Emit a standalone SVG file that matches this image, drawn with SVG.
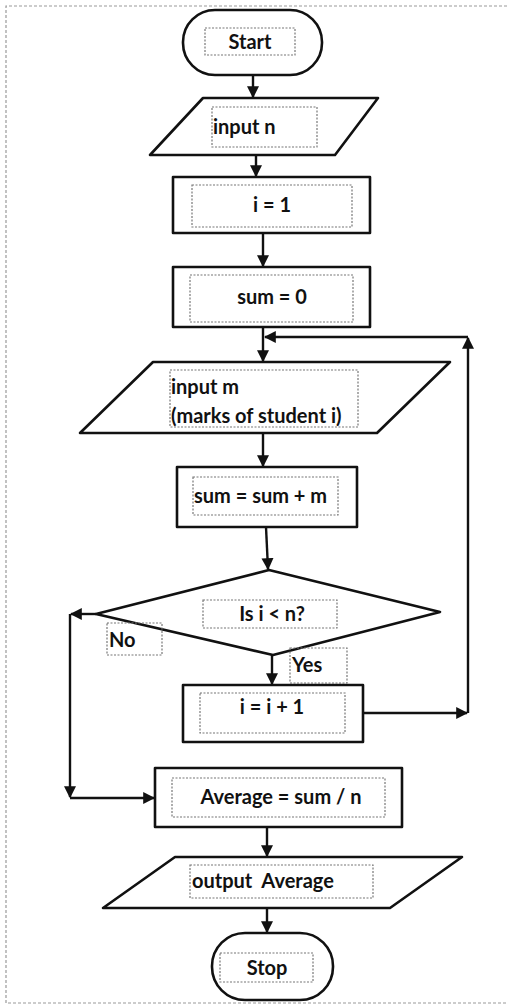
<svg xmlns="http://www.w3.org/2000/svg" width="507" height="1005" viewBox="0 0 507 1005">
<defs>
<marker id="ah" viewBox="0 0 10 10" refX="9" refY="5" markerWidth="12" markerHeight="13" markerUnits="userSpaceOnUse" orient="auto">
<path d="M0,0 L10,5 L0,10 z" fill="#111"/>
</marker>
</defs>
<style>
.shape{fill:#fff;stroke:#111;stroke-width:2.6;stroke-linejoin:round}
.tb{fill:none;stroke:#777;stroke-width:1.2;stroke-dasharray:2 1.5}
.frame{fill:none;stroke:#999;stroke-width:1.2;stroke-dasharray:3 2}
.conn{fill:none;stroke:#111;stroke-width:2.4}
text{font-family:Lato,"Open Sans","Liberation Sans",sans-serif;font-weight:bold;font-size:20px;fill:#111;white-space:pre}
.c{text-anchor:middle}
</style>
<rect width="507" height="1005" fill="#fff"/>
<g id="frame">
<path class="frame" d="M507,6 L6,6 L6,1003 L507,1003"/>
</g>
<g id="connectors">
<path class="conn" d="M253,75 L253,97" marker-end="url(#ah)"/>
<path class="conn" d="M256,155 L256,176" marker-end="url(#ah)"/>
<path class="conn" d="M263,233 L263,266" marker-end="url(#ah)"/>
<path class="conn" d="M263,327 L263,361" marker-end="url(#ah)"/>
<path class="conn" d="M263,432 L263,466" marker-end="url(#ah)"/>
<path class="conn" d="M266,527 L268,569" marker-end="url(#ah)"/>
<path class="conn" d="M272,655 L272,684" marker-end="url(#ah)"/>
<path class="conn" d="M363,713 L467,713" marker-end="url(#ah)"/>
<path class="conn" d="M468,713 L468,338" marker-end="url(#ah)"/>
<path class="conn" d="M468,337 L265,337" marker-end="url(#ah)"/>
<path class="conn" d="M96,614 L71,614" marker-end="url(#ah)"/>
<path class="conn" d="M70,614 L70,797" marker-end="url(#ah)"/>
<path class="conn" d="M70,798 L154,798" marker-end="url(#ah)"/>
<path class="conn" d="M267,827 L267,856" marker-end="url(#ah)"/>
<path class="conn" d="M267,908 L267,932" marker-end="url(#ah)"/>
</g>
<g id="start">
<rect class="shape" x="183" y="10" width="139" height="65" rx="32"/>
<rect class="tb" x="205" y="28" width="90" height="27"/>
<text class="c" x="250" y="49">Start</text>
</g>
<g id="input-n">
<polygon class="shape" points="203,98 378,98 335,155 150,155"/>
<rect class="tb" x="212" y="107" width="105" height="40"/>
<text x="213" y="134">input n</text>
</g>
<g id="i-init">
<rect class="shape" x="173" y="177" width="197" height="56"/>
<rect class="tb" x="192" y="185" width="160" height="42"/>
<text class="c" x="272" y="212">i = 1</text>
</g>
<g id="sum-init">
<rect class="shape" x="173" y="267" width="197" height="60"/>
<rect class="tb" x="190" y="275" width="163" height="47"/>
<text class="c" x="272" y="304">sum = 0</text>
</g>
<g id="input-m">
<polygon class="shape" points="153,362 450,362 377,433 80,433"/>
<rect class="tb" x="170" y="370" width="188" height="57"/>
<text x="171" y="394">input m</text>
<text x="171" y="423">(marks of student i)</text>
</g>
<g id="sum-add">
<rect class="shape" x="177" y="467" width="180" height="60"/>
<rect class="tb" x="193" y="477" width="145" height="38"/>
<text x="194" y="503">sum = sum + m</text>
</g>
<g id="decision">
<polygon class="shape" points="269,570 440,612 273,655 96,614"/>
<rect class="tb" x="203" y="600" width="134" height="28"/>
<text class="c" x="272" y="621">Is i &lt; n?</text>
</g>
<g id="label-no">
<rect class="tb" x="107" y="623" width="55" height="32"/>
<text x="109" y="647">No</text>
</g>
<g id="label-yes">
<rect class="tb" x="290" y="648" width="57" height="35"/>
<text x="292" y="672">Yes</text>
</g>
<g id="i-inc">
<rect class="shape" x="183" y="685" width="180" height="57"/>
<rect class="tb" x="200" y="693" width="145" height="40"/>
<text class="c" x="272" y="714">i = i + 1</text>
</g>
<g id="average">
<rect class="shape" x="155" y="768" width="247" height="59"/>
<rect class="tb" x="172" y="778" width="213" height="39"/>
<text class="c" x="281" y="804">Average = sum / n</text>
</g>
<g id="output">
<polygon class="shape" points="175,857 462,857 390,908 103,908"/>
<rect class="tb" x="190" y="865" width="183" height="33"/>
<text x="192" y="888">output  Average</text>
</g>
<g id="stop">
<rect class="shape" x="212" y="933" width="121" height="67" rx="33"/>
<rect class="tb" x="220" y="953" width="93" height="29"/>
<text class="c" x="267" y="975">Stop</text>
</g>
</svg>
